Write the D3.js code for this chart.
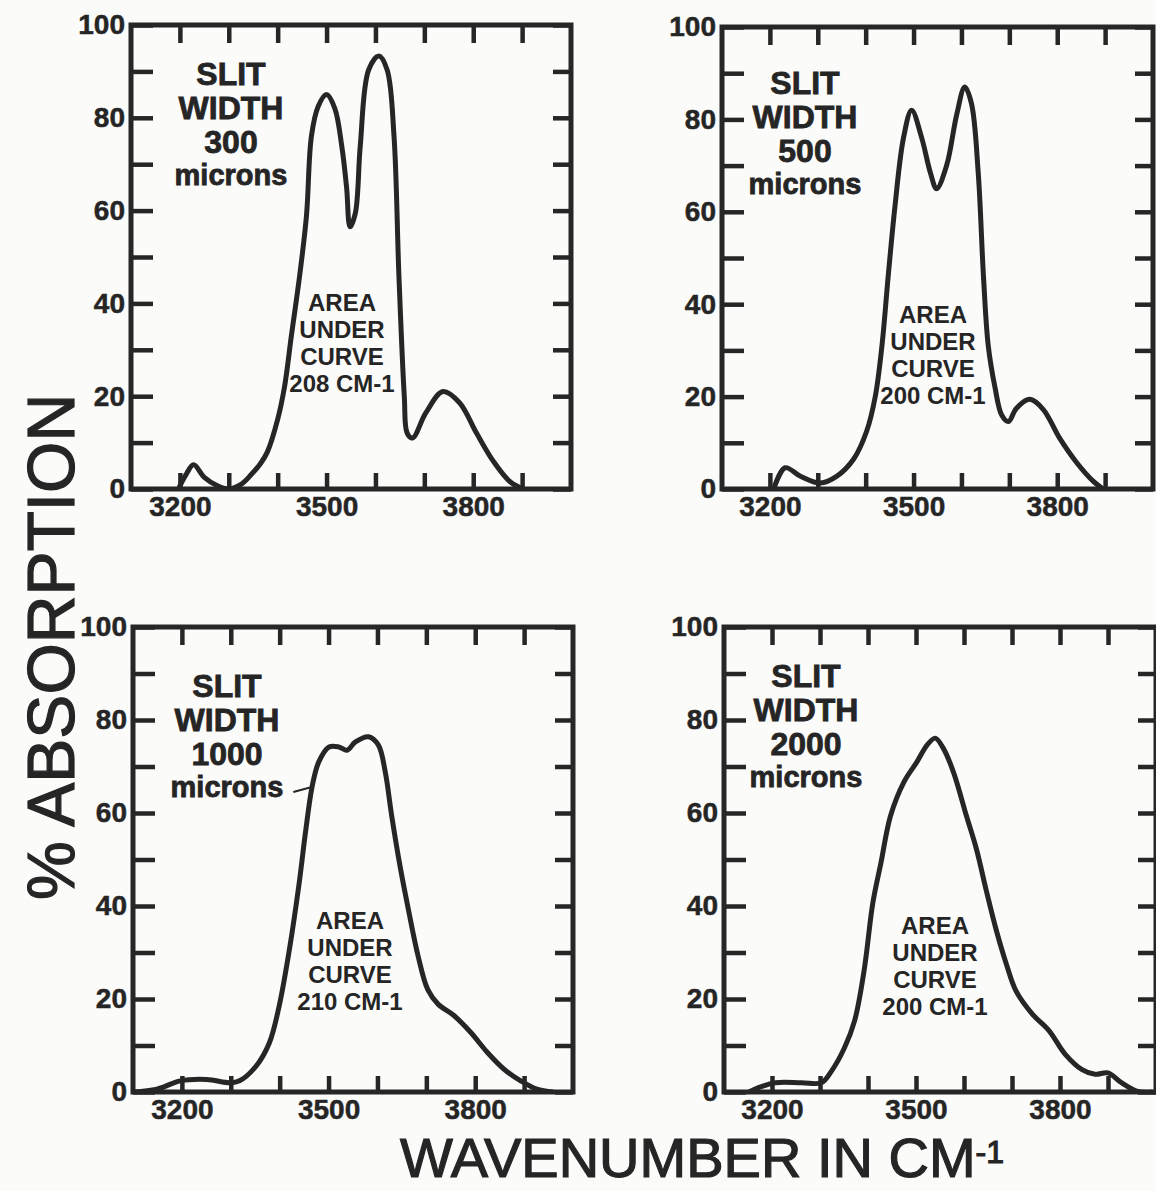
<!DOCTYPE html>
<html>
<head>
<meta charset="utf-8">
<script src="https://cdn.jsdelivr.net/npm/d3@7"></script>
<style>
  body { margin: 0; background: #fbfbf9; }
  svg { display: block; }
  text { font-family: "Liberation Sans", Arial, sans-serif; fill: #252525; }
</style>
</head>
<body>
<div id="chart"></div>
<script>
// ---------------------------------------------------------------- data
var xDomain = [3100, 4000];
var xTickValues = [3200, 3300, 3400, 3500, 3600, 3700, 3800, 3900];
var xTickLabels = [3200, 3500, 3800];
var yTickValues = [0, 10, 20, 30, 40, 50, 60, 70, 80, 90, 100];
var yTickLabels = [0, 20, 40, 60, 80, 100];

var slitWidths = ["300", "500", "1000", "2000"];
var areaValues = ["208 CM-1", "200 CM-1", "210 CM-1", "200 CM-1"];

// slit width 300 microns
var wn300  = [3197, 3212, 3228, 3250, 3275, 3300, 3325, 3345, 3365, 3379, 3400, 3414, 3428, 3445, 3459, 3469, 3483, 3500, 3517, 3531, 3541, 3548, 3559, 3569, 3586, 3607, 3624, 3638, 3648, 3659, 3665, 3676, 3703, 3738, 3772, 3807, 3841, 3876, 3903];
var abs300 = [0, 3, 5.2, 2.5, 0.8, 0, 1, 3, 5.5, 8, 15, 22, 33, 46, 59, 76, 82.5, 85, 82, 74, 65, 56.5, 59.5, 74, 90.3, 93.3, 90.3, 76, 46, 20, 12, 11, 16.4, 21, 18.6, 12, 6, 1.5, 0];

// slit width 500 microns
var wn500  = [3208, 3232, 3263, 3305, 3340, 3375, 3402, 3420, 3434, 3447, 3461, 3479, 3496, 3517, 3535, 3548, 3569, 3590, 3607, 3621, 3635, 3646, 3656, 3670, 3684, 3698, 3715, 3743, 3771, 3805, 3840, 3875, 3896];
var abs500 = [0, 4.6, 2.8, 1.3, 2.8, 6.5, 12.5, 20, 31, 46, 61, 76, 82, 76, 68.5, 65, 70, 81, 87, 83.4, 68.5, 46, 31, 22, 16, 14.6, 17.5, 19.4, 17.2, 11, 5.8, 1.7, 0];

// slit width 1000 microns
var wn1000  = [3100, 3149, 3197, 3251, 3298, 3318, 3352, 3379, 3399, 3420, 3440, 3453, 3467, 3480, 3501, 3521, 3538, 3555, 3582, 3602, 3616, 3629, 3646, 3663, 3683, 3703, 3724, 3757, 3791, 3825, 3859, 3893, 3926, 3960];
var abs1000 = [0, 0.6, 2.4, 2.7, 2, 2.4, 5.6, 10.6, 18.5, 30.7, 45, 56, 66, 71, 74.2, 74.2, 73.5, 75.3, 76.4, 74.6, 68.8, 59.5, 48.7, 39.4, 29.3, 22, 18.9, 16.4, 12.8, 8.5, 4.9, 2.4, 0.6, 0];

// slit width 2000 microns
var wn2000  = [3152, 3173, 3207, 3262, 3303, 3324, 3351, 3372, 3392, 3410, 3427, 3447, 3475, 3502, 3523, 3540, 3557, 3578, 3605, 3626, 3646, 3667, 3688, 3708, 3742, 3777, 3811, 3846, 3873, 3900, 3928, 3962, 3993];
var abs2000 = [0, 1, 2, 2, 2, 4.5, 9.5, 15.3, 26.2, 40.6, 49.3, 59.4, 66.7, 71, 74.6, 76.1, 73.9, 68.8, 59.4, 52.2, 43.5, 34.9, 27.6, 21.8, 16.8, 13.2, 8.1, 4.8, 3.8, 4.1, 2, 0.1, 0];

var wnSeries  = [wn300, wn500, wn1000, wn2000];
var absSeries = [abs300, abs500, abs1000, abs2000];

// leader from the "microns" label to the 1000 micron curve (data units)
var leaderWn  = [3428, 3462];
var leaderAbs = [64.5, 65.5];

// ---------------------------------------------------------------- layout
var W = 1156, H = 1191;
var ink = "#262626";

// panel frames in page pixels
var frames = [
  { x: 131, y: 25,  w: 440, h: 464 },
  { x: 722, y: 27,  w: 431, h: 462 },
  { x: 133, y: 627, w: 440, h: 465 },
  { x: 724, y: 627, w: 432, h: 465 }
];
// label blocks, offsets inside each frame
var slitPos = [ { cx: 100, top: 48 }, { cx: 83, top: 55 }, { cx: 94, top: 58 }, { cx: 82, top: 48 } ];
var areaPos = [ { cx: 211, top: 277 }, { cx: 211, top: 287 }, { cx: 217, top: 293 }, { cx: 211, top: 298 } ];

var svg = d3.select("#chart")
  .append("svg")
    .attr("width", W)
    .attr("height", H);

svg.append("rect")
  .attr("width", W).attr("height", H)
  .attr("fill", "#fbfbf9");

frames.forEach(function(f, i) {

  var x = d3.scaleLinear().domain(xDomain).range([0, f.w]);
  var y = d3.scaleLinear().domain([0, 100]).range([f.h, 0]);

  var g = svg.append("g")
    .attr("transform", "translate(" + f.x + "," + f.y + ")");

  g.append("clipPath")
    .attr("id", "clip" + i)
    .append("rect")
      .attr("width", f.w).attr("height", f.h);

  ///////////////////////////// ticks (all pointing inwards)
  var tickFmtX = function(d) { return xTickLabels.indexOf(d) >= 0 ? d : ""; };
  var tickFmtY = function(d) { return yTickLabels.indexOf(d) >= 0 ? d : ""; };

  g.append("g")
    .attr("class", "axis")
    .attr("transform", "translate(0," + f.h + ")")
    .call(d3.axisBottom(x).tickValues(xTickValues).tickSize(-16).tickPadding(7).tickFormat(tickFmtX));

  g.append("g")
    .attr("class", "axis")
    .call(d3.axisTop(x).tickValues(xTickValues).tickSize(-18).tickFormat(""));

  g.append("g")
    .attr("class", "axis")
    .call(d3.axisLeft(y).tickValues(yTickValues).tickSize(-22).tickPadding(6).tickFormat(tickFmtY));

  g.append("g")
    .attr("class", "axis")
    .attr("transform", "translate(" + f.w + ",0)")
    .call(d3.axisRight(y).tickValues(yTickValues).tickSize(-18).tickFormat(""));

  g.selectAll(".axis .domain").remove();
  g.selectAll(".axis line")
    .attr("stroke", ink)
    .attr("stroke-width", 4.5);
  g.selectAll(".axis text")
    .attr("fill", ink)
    .attr("stroke", ink)
    .attr("stroke-width", 0.5)
    .style("font-size", "28px")
    .style("font-weight", "bold")
    .style("font-family", "'Liberation Sans', Arial, sans-serif");

  ///////////////////////////// frame
  g.append("rect")
    .attr("width", f.w).attr("height", f.h)
    .attr("fill", "none")
    .attr("stroke", ink)
    .attr("stroke-width", 5);

  ///////////////////////////// absorption curve
  var pts = wnSeries[i].map(function(w, k) { return [w, absSeries[i][k]]; });
  g.append("path")
    .datum(pts)
    .attr("clip-path", "url(#clip" + i + ")")
    .attr("fill", "none")
    .attr("stroke", ink)
    .attr("stroke-width", 5)
    .attr("stroke-linejoin", "round")
    .attr("d", d3.line()
      .x(function(d) { return x(d[0]); })
      .y(function(d) { return y(d[1]); })
      .curve(d3.curveCatmullRom.alpha(0.5)));

  if (i === 2) {
    g.append("line")
      .attr("x1", x(leaderWn[0])).attr("y1", y(leaderAbs[0]))
      .attr("x2", x(leaderWn[1])).attr("y2", y(leaderAbs[1]))
      .attr("stroke", ink)
      .attr("stroke-width", 2);
  }

  ///////////////////////////// slit width label
  var slitLines = ["SLIT", "WIDTH", slitWidths[i], "microns"];
  g.append("g")
    .selectAll("text")
    .data(slitLines)
    .enter().append("text")
      .attr("x", slitPos[i].cx)
      .attr("y", function(d, k) { return slitPos[i].top + k * 34; })
      .attr("dy", "0.36em")
      .attr("text-anchor", "middle")
      .attr("stroke", ink)
      .attr("stroke-width", 0.8)
      .style("font-weight", "bold")
      .style("font-size", function(d, k) { return k === 3 ? "29px" : "32px"; })
      .text(function(d) { return d; });

  ///////////////////////////// area label
  var areaLines = ["AREA", "UNDER", "CURVE", areaValues[i]];
  g.append("g")
    .selectAll("text")
    .data(areaLines)
    .enter().append("text")
      .attr("x", areaPos[i].cx)
      .attr("y", function(d, k) { return areaPos[i].top + k * 27; })
      .attr("dy", "0.36em")
      .attr("text-anchor", "middle")
      .style("font-weight", "bold")
      .style("font-size", "24px")
      .text(function(d) { return d; });
});

///////////////////////////// axis titles
svg.append("text")
  .attr("transform", "translate(74," + 647 + ") rotate(-90)")
  .attr("text-anchor", "middle")
  .style("font-size", "66px")
  .attr("stroke", ink)
  .attr("stroke-width", 1.2)
  .text("% ABSORPTION");

var xt = svg.append("text")
  .attr("x", 400)
  .attr("y", 1177)
  .style("font-size", "56px")
  .attr("stroke", ink)
  .attr("stroke-width", 1.2);
xt.append("tspan").text("WAVENUMBER IN CM");
xt.append("tspan")
  .attr("dy", "-0.45em")
  .style("font-size", "32px")
  .text("-1");
</script>
</body>
</html>
